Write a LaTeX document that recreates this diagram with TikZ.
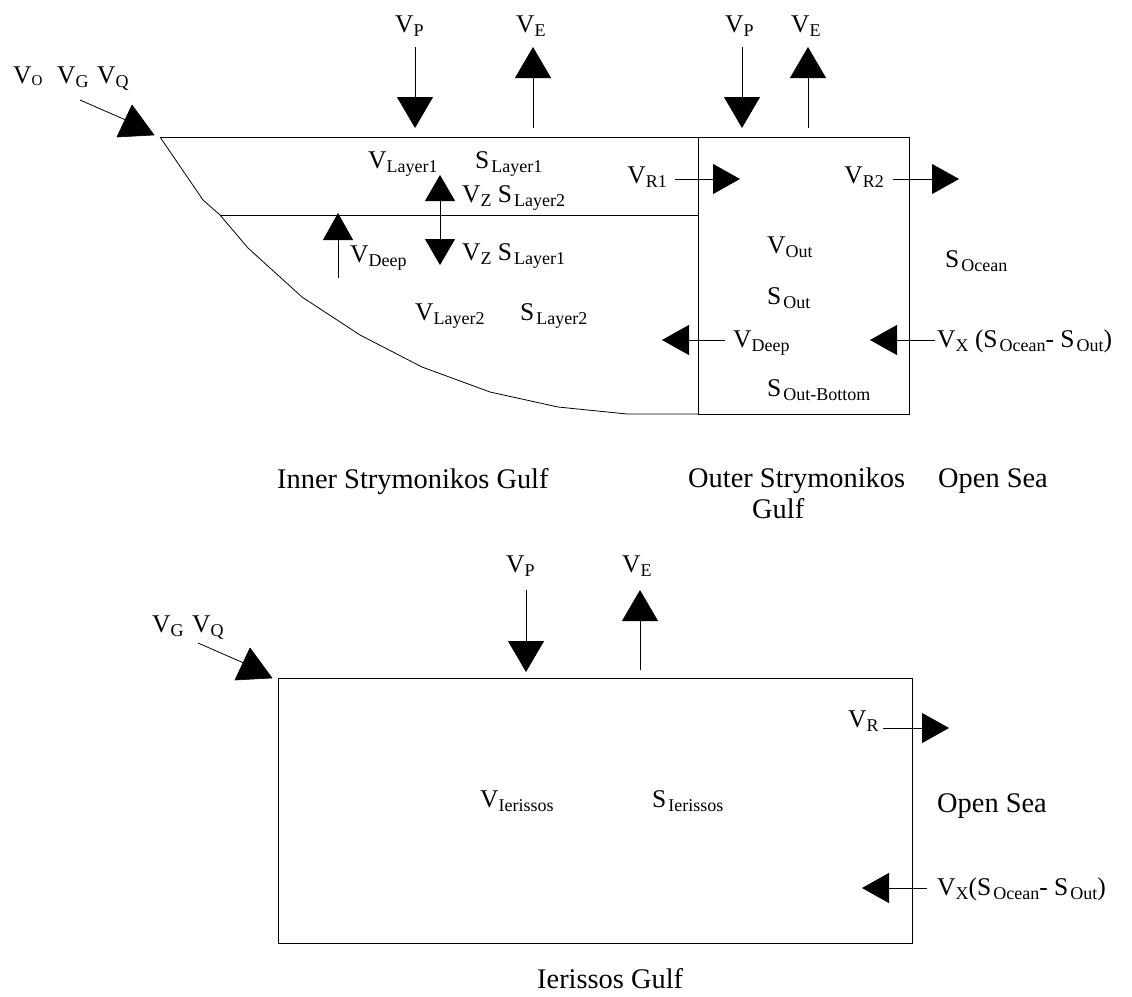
\documentclass[tikz,border=0pt]{standalone}
\usepackage{fontspec}
\setmainfont{Liberation Serif}
\usetikzlibrary{arrows.meta}
\newcommand{\subfont}{\fontsize{18}{18}\selectfont}
\newcommand{\vsub}[2]{#1\raisebox{-4pt}{\subfont #2}}
\newcommand{\ssub}[2]{#1\hspace{2pt}\raisebox{-4pt}{\subfont #2}}

\begin{document}
\begin{tikzpicture}[x=1pt,y=-1pt,
  lbl/.style={anchor=base west, inner sep=0pt, font=\fontsize{25.5}{30}\selectfont},
  capt/.style={anchor=base west, inner sep=0pt, font=\fontsize{28.4}{34}\selectfont},
  edge/.style={line width=1pt, draw=black},
  flux/.style={line width=1pt, -{Triangle[length=31pt,width=36pt]}},
  fluxs/.style={line width=1pt, -{Triangle[length=27pt,width=30pt]}},
  zflux/.style={line width=1pt, {Triangle[length=26pt,width=30pt]}-{Triangle[length=26pt,width=30pt]}},
  inlet/.style={fill=black, draw=black, line width=0.6pt, line join=round},
]
\useasboundingbox (0,0) rectangle (1132,996);

% ---------------- Strymonikos Gulf: outline ----------------
\coordinate (shore) at (160,137);
\coordinate (divTop) at (698,137);
\coordinate (divBot) at (698,414);
\coordinate (outTR) at (909,137);
\coordinate (outBR) at (909,414);
\coordinate (layL) at (220,215);
\coordinate (layR) at (698,215);

\draw[edge] (shore) -- (outTR) -- (outBR) -- (divBot);
\draw[edge] (divTop) -- (divBot);
\draw[edge] (layL) -- (layR);
\draw[line width=0.8pt] (shore) -- (203,200) -- (220,215) -- (248,248) -- (302,297)
  -- (360,335) -- (422,367) -- (490,392) -- (558,407) -- (627,414) -- (divBot);

% river / ground / other inflows
\node[lbl] (vO) at (13,83) {V\raisebox{-2pt}{\fontsize{15}{15}\selectfont O}};
\node[lbl] (vG) at (57,83) {\vsub{V}{G}};
\node[lbl] (vQ) at (97,83) {\vsub{V}{Q}};
\coordinate (inA) at (80,100);
\coordinate (inB) at (128,121);
\draw[line width=0.8pt] (inA) -- (inB);
\filldraw[inlet] (132,105) -- (117,137) -- (154,135) -- cycle;

% precipitation and evaporation, inner gulf
\node[lbl] (vP1) at (395,32) {\vsub{V}{P}};
\node[lbl] (vE1) at (516,32) {\vsub{V}{E}};
\coordinate (p1a) at (415,47);  \coordinate (p1b) at (415,128);
\coordinate (e1a) at (533,128); \coordinate (e1b) at (533,47);
\draw[flux] (p1a) -- (p1b);
\draw[flux] (e1a) -- (e1b);

% precipitation and evaporation, outer gulf
\node[lbl] (vP2) at (725,32) {\vsub{V}{P}};
\node[lbl] (vE2) at (791,32) {\vsub{V}{E}};
\coordinate (p2a) at (742,47);  \coordinate (p2b) at (742,128);
\coordinate (e2a) at (808,128); \coordinate (e2b) at (808,47);
\draw[flux] (p2a) -- (p2b);
\draw[flux] (e2a) -- (e2b);

% inner gulf layers
\node[lbl] (vL1) at (368,168) {\vsub{V}{Layer1}};
\node[lbl] (sL1) at (475,168) {\ssub{S}{Layer1}};
\node[lbl] (vZ2) at (462,202) {\vsub{V}{Z} \ssub{S}{Layer2}};
\node[lbl] (vZ1) at (462,260) {\vsub{V}{Z} \ssub{S}{Layer1}};
\node[lbl] (vD1) at (350,262) {\vsub{V}{Deep}};
\node[lbl] (vL2) at (415,320) {\vsub{V}{Layer2}};
\node[lbl] (sL2) at (520,320) {\ssub{S}{Layer2}};
\coordinate (zTop) at (440,175); \coordinate (zBot) at (440,265);
\draw[zflux] (zTop) -- (zBot);
\coordinate (dUpA) at (338,278); \coordinate (dUpB) at (338,213);
\draw[fluxs] (dUpA) -- (dUpB);

% exchanges across the sill
\node[lbl, anchor=base east] (vR1) at (667,183) {\vsub{V}{R1}};
\coordinate (r1a) at (675,179); \coordinate (r1b) at (740,179);
\draw[fluxs] (r1a) -- (r1b);
\node[lbl] (vD2) at (733,347) {\vsub{V}{Deep}};
\coordinate (d2a) at (725,340); \coordinate (d2b) at (662,340);
\draw[fluxs] (d2a) -- (d2b);

% outer gulf
\node[lbl] (vOut) at (767,253) {\vsub{V}{Out}};
\node[lbl] (sOut) at (767,304) {\ssub{S}{Out}};
\node[lbl] (sOB) at (767,396) {\ssub{S}{Out-Bottom}};
\node[lbl, anchor=base east] (vR2) at (884,183) {\vsub{V}{R2}};
\coordinate (r2a) at (893,179); \coordinate (r2b) at (959,179);
\draw[fluxs] (r2a) -- (r2b);

% open sea
\node[lbl] (sOc) at (945,267) {\ssub{S}{Ocean}};
\node[lbl] (vX1) at (937,347) {\vsub{V}{X} (\ssub{S}{Ocean}- \ssub{S}{Out})};
\coordinate (x1a) at (935,340); \coordinate (x1b) at (870,340);
\draw[fluxs] (x1a) -- (x1b);

% captions
\node[capt] (cInner) at (277,488) {Inner Strymonikos Gulf};
\node[capt] (cOuter) at (688,487) {Outer Strymonikos};
\node[capt] (cGulf) at (752,518) {Gulf};
\node[capt] (cSea1) at (938,487) {Open Sea};

% ---------------- Ierissos Gulf ----------------
\coordinate (iTL) at (278,678);
\coordinate (iBR) at (912,943);
\draw[edge] (iTL) rectangle (iBR);

\node[lbl] (vG2) at (152,632) {\vsub{V}{G}};
\node[lbl] (vQ2) at (192,632) {\vsub{V}{Q}};
\coordinate (in2A) at (198,643);
\coordinate (in2B) at (246,664);
\draw[line width=0.8pt] (in2A) -- (in2B);
\filldraw[inlet] (250,648) -- (235,680) -- (272,678) -- cycle;

\node[lbl] (vP3) at (506,572) {\vsub{V}{P}};
\node[lbl] (vE3) at (622,572) {\vsub{V}{E}};
\coordinate (p3a) at (526,590); \coordinate (p3b) at (526,672);
\coordinate (e3a) at (640,670); \coordinate (e3b) at (640,590);
\draw[flux] (p3a) -- (p3b);
\draw[flux] (e3a) -- (e3b);

\node[lbl] (vIe) at (480,807) {\vsub{V}{Ierissos}};
\node[lbl] (sIe) at (652,807) {\ssub{S}{Ierissos}};

\node[lbl] (vR3) at (848,727) {\vsub{V}{R}};
\coordinate (r3a) at (883,728); \coordinate (r3b) at (949,728);
\draw[fluxs] (r3a) -- (r3b);

\node[capt] (cSea2) at (937,812) {Open Sea};
\node[lbl] (vX2) at (937,895) {\vsub{V}{X}(\ssub{S}{Ocean}- \ssub{S}{Out})};
\coordinate (x2a) at (927,888); \coordinate (x2b) at (862,888);
\draw[fluxs] (x2a) -- (x2b);

\node[capt] (cIer) at (537,988) {Ierissos Gulf};
\end{tikzpicture}
\end{document}
